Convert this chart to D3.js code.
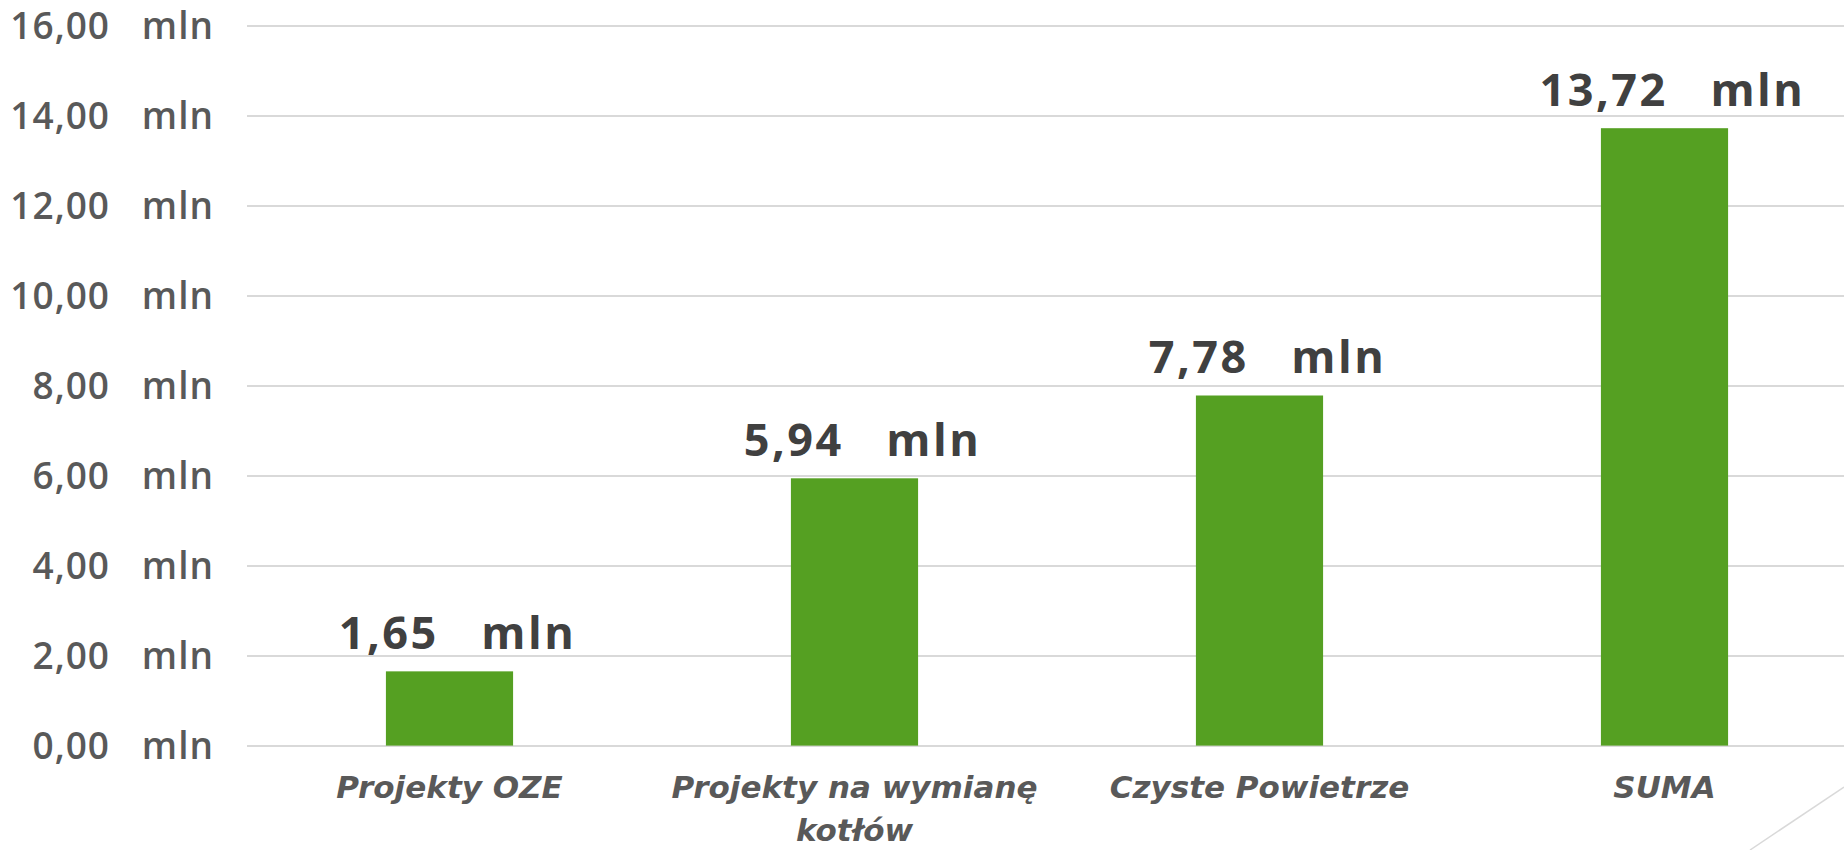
<!DOCTYPE html>
<html>
<head>
<meta charset="utf-8">
<script src="https://cdn.jsdelivr.net/npm/d3@7"></script>
<style>
  body { margin: 0; background: #fff; }
  svg text { white-space: pre; font-family: "Open Sans", Lato, sans-serif; }
</style>
</head>
<body>
<svg width="1844" height="850"></svg>
<script>
// data
const categories = ["Projekty OZE", "Projekty na wymianę kotłów", "Czyste Powietrze", "SUMA"];
const values = [1.65, 5.94, 7.78, 13.72];
const yTicks = [0, 2, 4, 6, 8, 10, 12, 14, 16];

const width = 1844, height = 850;
const margin = {top: 25.6, right: -23, bottom: 104.4, left: 247};
const plotWidth = width - margin.left - margin.right;
const plotHeight = height - margin.top - margin.bottom;

const locale = d3.formatLocale({decimal: ",", thousands: " ", grouping: [3], currency: ["", ""]});
const fmt = locale.format(".2f");

const svg = d3.select("svg");
const g = svg.append("g")
    .attr("transform", `translate(${margin.left}, ${margin.top})`);

const x = d3.scaleBand()
    .domain(categories)
    .range([0, plotWidth])
    .paddingInner(0.686)
    .paddingOuter(0.343);

const y = d3.scaleLinear()
    .domain([0, 16])
    .range([plotHeight, 0]);

// y axis with gridlines
const yAxis = g.append("g")
    .call(d3.axisLeft(y)
        .tickValues(yTicks)
        .tickSize(-plotWidth)
        .tickPadding(33)
        .tickFormat(d => fmt(d) + "   mln"));
yAxis.select(".domain").remove();
yAxis.selectAll("line")
    .attr("stroke", "#d9d9d9")
    .attr("stroke-width", 2);
yAxis.selectAll("text")
    .attr("fill", "#595959")
    .attr("font-size", "37px")
    .attr("font-weight", 600)
    .attr("letter-spacing", "1px")
    .attr("dy", "0.36em");

// bars
g.selectAll("rect.bar")
    .data(values)
    .enter()
    .append("rect")
    .attr("class", "bar")
    .attr("x", (d, i) => x(categories[i]))
    .attr("y", d => y(d))
    .attr("width", x.bandwidth())
    .attr("height", d => plotHeight - y(d))
    .attr("fill", "#55a022");

// value labels
g.selectAll("text.val")
    .data(values)
    .enter()
    .append("text")
    .attr("class", "val")
    .attr("x", (d, i) => x(categories[i]) + x.bandwidth() / 2 + 8)
    .attr("y", d => y(d) - 22)
    .attr("text-anchor", "middle")
    .attr("fill", "#404040")
    .attr("font-size", "45px")
    .attr("font-weight", "bold")
    .attr("letter-spacing", "2.5px")
    .text(d => fmt(d) + "   mln");

// category labels, wrapped to band step
const catGroup = g.append("g")
    .attr("transform", `translate(0, ${plotHeight})`);

categories.forEach(cat => {
    const cx = x(cat) + x.bandwidth() / 2;
    const t = catGroup.append("text")
        .attr("x", cx)
        .attr("y", 52)
        .attr("text-anchor", "middle")
        .attr("fill", "#595959")
        .style("font-family", "'DejaVu Sans', sans-serif")
        .style("font-size", "31px")
        .style("font-style", "italic")
        .style("font-weight", "bold");
    const words = cat.split(" ");
    let line = [];
    let tspan = t.append("tspan").attr("x", cx).attr("dy", 0);
    words.forEach(w => {
        line.push(w);
        tspan.text(line.join(" "));
        if (tspan.node().getComputedTextLength() > x.step() && line.length > 1) {
            line.pop();
            tspan.text(line.join(" "));
            line = [w];
            tspan = t.append("tspan")
                .attr("x", cx)
                .attr("dy", 43)
                .text(w);
        }
    });
});

// slide decoration in the corner
svg.append("line")
    .attr("x1", 1750).attr("y1", 850)
    .attr("x2", 1844).attr("y2", 787)
    .attr("stroke", "#d9d9d9")
    .attr("stroke-width", 1.5);
</script>
</body>
</html>
